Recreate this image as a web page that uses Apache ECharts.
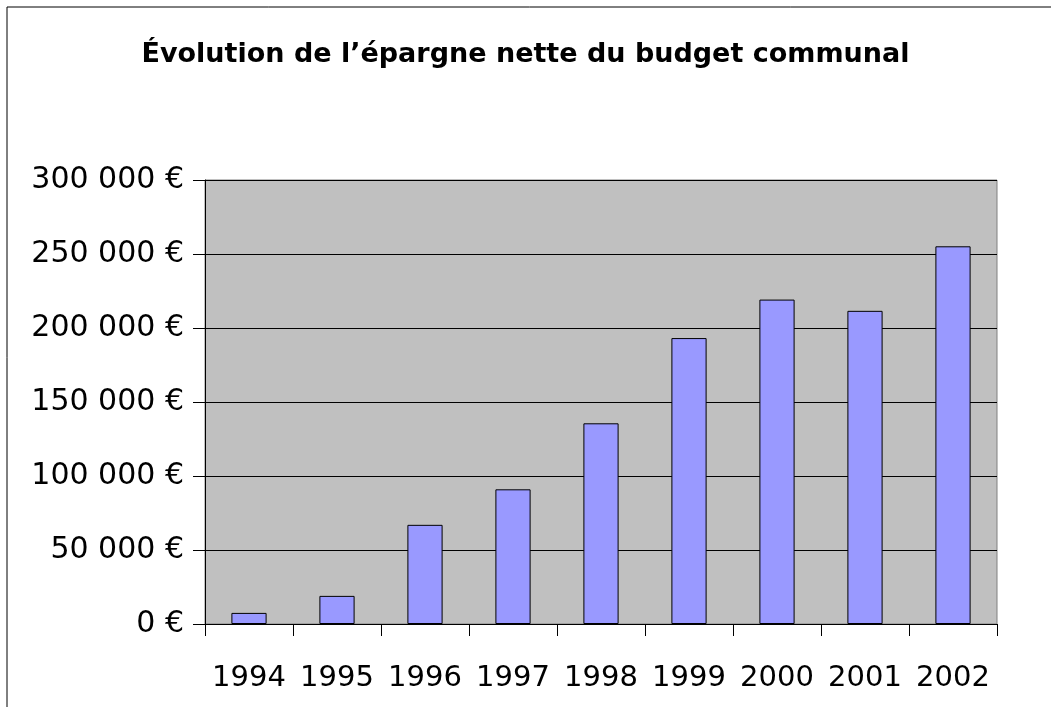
<!DOCTYPE html>
<html>
<head>
<meta charset="utf-8">
<style>
  html, body { margin: 0; padding: 0; background: #fff; }
  #main { width: 1051px; height: 707px; }
</style>
<script src="https://cdn.jsdelivr.net/npm/echarts@6/dist/echarts.min.js"></script>
</head>
<body>
<div id="main"></div>
<script>
// données
var years = ["1994", "1995", "1996", "1997", "1998", "1999", "2000", "2001", "2002"];
var epargne = [7500, 19000, 67000, 91000, 135600, 193200, 219200, 211600, 255200];

var font = "'DejaVu Sans', sans-serif";

function euro(v) {
  return String(v).replace(/\B(?=(\d{3})+(?!\d))/g, " ") + " €";
}

var myChart = echarts.init(document.getElementById("main"));
myChart.setOption({
  animation: false,
  title: {
    text: "Évolution de l’épargne nette du budget communal",
    left: "center",
    top: 36,
    textStyle: {
      fontFamily: font,
      fontSize: 27,
      fontWeight: "bold",
      color: "#000"
    }
  },
  graphic: [
    {
      type: "rect",
      shape: { x: 7, y: 7, width: 1200, height: 900 },
      style: { fill: "none", stroke: "#000", lineWidth: 1 },
      silent: true
    }
  ],
  grid: {
    left: 205,
    right: 54,
    top: 180,
    bottom: 83,
    show: true,
    backgroundColor: "#C0C0C0",
    borderColor: "#808080",
    borderWidth: 1
  },
  xAxis: {
    type: "category",
    data: years,
    axisLine: { show: true, lineStyle: { color: "#000", width: 1 } },
    axisTick: { show: true, interval: 0, alignWithLabel: false, length: 12, lineStyle: { color: "#000", width: 1 } },
    axisLabel: {
      interval: 0,
      hideOverlap: false,
      margin: 40,
      color: "#000",
      fontFamily: font,
      fontSize: 29
    }
  },
  yAxis: {
    type: "value",
    min: 0,
    max: 300000,
    interval: 50000,
    axisLine: { show: true, lineStyle: { color: "#000", width: 1 } },
    axisTick: { show: true, length: 12, lineStyle: { color: "#000" } },
    splitLine: { lineStyle: { color: "#000", width: 1 } },
    axisLabel: {
      margin: 21,
      color: "#000",
      fontFamily: font,
      fontSize: 30,
      formatter: euro
    }
  },
  series: [
    {
      name: "Épargne nette",
      type: "bar",
      data: epargne,
      barWidth: "40%",
      itemStyle: {
        color: "#9999FF",
        borderColor: "#000",
        borderWidth: 1
      }
    }
  ]
});
</script>
</body>
</html>
